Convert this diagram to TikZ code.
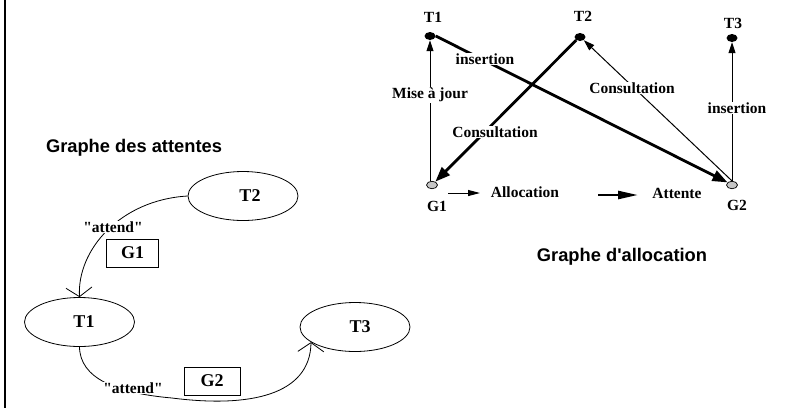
\documentclass[tikz,border=0pt]{standalone}
\usepackage{fontspec}
\setmainfont{Liberation Serif}[Ligatures=TeXOff]
\setsansfont{Liberation Sans}[Ligatures=TeXOff]
\usetikzlibrary{shapes.geometric,arrows.meta}
\tikzset{
  tnode/.style={ellipse, draw, line width=0.8pt, minimum width=110pt, minimum height=49pt, inner sep=0pt, font=\fontsize{18}{18}\selectfont\bfseries},
  gbox/.style={draw, line width=0.8pt, minimum width=52pt, minimum height=28pt, inner sep=0pt, font=\fontsize{18}{18}\selectfont\bfseries},
  lbl/.style={font=\fontsize{15.5}{15.5}\selectfont\bfseries, inner sep=1pt},
  wlbl/.style={lbl, fill=white},
  title/.style={font=\fontsize{18.3}{18.3}\selectfont\sffamily\bfseries, inner sep=0pt},
  blackdot/.style={ellipse, fill=black, minimum width=11pt, minimum height=8pt, inner sep=0pt},
  graydot/.style={ellipse, draw=black, line width=0.7pt, fill=gray!45, minimum width=11pt, minimum height=7.5pt, inner sep=0pt},
  waitedge/.style={line width=0.8pt, -{Straight Barb[length=9pt,width=26pt,line width=0.8pt]}},
  thinarr/.style={line width=1pt, -{Triangle[length=11pt,width=7pt]}},
  thickarr/.style={line width=2.8pt, -{Triangle[length=15pt,width=11pt]}}
}
\begin{document}
\begin{tikzpicture}[x=1pt,y=-1pt]
\useasboundingbox (0,0) rectangle (811,408);
\fill[white] (0,0) rectangle (811,408);
% left frame line
\draw[line width=1.5pt] (5,0) -- (5,408);

% ---------- Graphe des attentes ----------
\node[title] (ttl1) at (134,148) {Graphe des attentes};
\node[tnode] (T2) at (243,196) {\hspace*{14pt}T2};
\node[tnode] (T1) at (79.5,322) {\hspace*{9pt}T1};
\node[tnode] (T3) at (355,327) {\hspace*{10pt}T3};

\draw[waitedge] (T2.west) .. controls (120,200) and (77,250) .. (T1.north);
\node[wlbl] (att1) at (113,227) {"attend"};
\node[gbox] (G1b) at (132.5,253) {G1};

\draw[waitedge] (T1.south) .. controls (80,378) and (115,393) .. (172,398)
  .. controls (250,408) and (310,395) .. (T3.199);
\node[wlbl] (att2) at (133,388) {"attend"};
\node[gbox, minimum width=56pt] (G2b) at (212,381) {G2};

% ---------- Graphe d'allocation ----------
\node[blackdot] (t1) at (430,36) {};
\node[blackdot] (t2) at (580,37) {};
\node[blackdot] (t3) at (732,38) {};
\node[graydot] (g1) at (432,185) {};
\node[graydot] (g2) at (732,185) {};

\node[lbl] (lt1) at (433,17) {T1};
\node[lbl] (lt2) at (583,16) {T2};
\node[lbl] (lt3) at (733,23) {T3};
\node[lbl] (lg1) at (437,206) {G1};
\node[lbl] (lg2) at (737,205) {G2};

\coordinate (g1top) at (430,181);
\draw[thinarr] (g1top) -- (t1.south);
\draw[thickarr] (t1.east) -- (g2.150);
\draw[thinarr] (g2.north) -- (t2.-40);
\draw[thickarr] (t2.220) -- (g1.45);
\draw[thinarr] (g2.north) -- (t3.south);

\node[wlbl] (mise) at (430,95) {Mise à jour};
\node[wlbl] (ins1) at (485,59) {insertion};
\node[wlbl] (cons1) at (632,88) {Consultation};
\node[wlbl] (cons2) at (495,132) {Consultation};
\node[wlbl] (ins2) at (737,108) {insertion};

% legend
\coordinate (la1) at (448,193);
\coordinate (la2) at (480,193);
\draw[line width=1pt, -{Triangle[length=12pt,width=6pt]}] (la1) -- (la2);
\node[lbl] (alloc) at (525,192) {Allocation};
\coordinate (lb1) at (598,195);
\coordinate (lb2) at (638,195);
\draw[line width=2.5pt, -{Triangle[length=20pt,width=8pt]}] (lb1) -- (lb2);
\node[lbl] (att) at (677,193) {Attente};

\node[title] (ttl2) at (622,257) {Graphe d'allocation};
\end{tikzpicture}
\end{document}
